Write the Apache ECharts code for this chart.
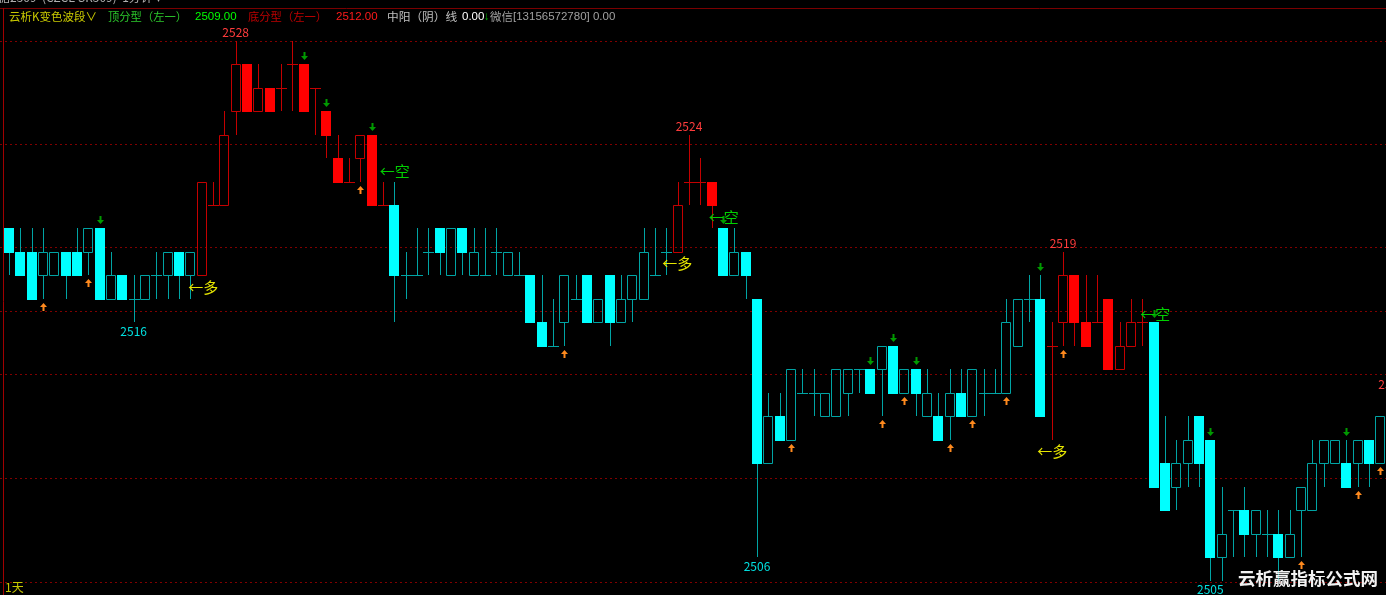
<!DOCTYPE html>
<html><head><meta charset="utf-8">
<script src="https://cdn.jsdelivr.net/npm/echarts@6/dist/echarts.min.js"></script>
<style>html,body{margin:0;padding:0;background:#000;}#c{width:1386px;height:595px;}</style>
</head><body><div id="c"></div>
<script>
// ---- data (1-minute candles, index 0..122) ----
const opens  = [2520,2519,2519,2518,2518,2519,2519,2519,2520,2517,2518,2517,2517,2518,2518,2519,2518,2518,2521,2521,
                2525,2527,2525,2526,2526,2527,2527,2526,2525,2523,2522,2523,2524,2521,2521,2518,2518,2519,2520,2518,
                2520,2518,2518,2519,2518,2518,2518,2516,2515,2516,2517,2518,2516,2518,2516,2517,2517,2518,2519,2519,
                2522,2522,2522,2520,2518,2519,2517,2510,2512,2511,2513,2513,2512,2512,2513,2514,2514,2514,2515,2513,
                2514,2512,2512,2512,2513,2512,2513,2513,2513,2515,2517,2517,2515,2516,2518,2516,2516,2517,2514,2515,
                2516,2516,2510,2509,2510,2512,2511,2506,2508,2508,2507,2507,2507,2506,2508,2508,2510,2510,2510,2510,
                2511,2510,2512];
const closes = [2519,2518,2517,2519,2519,2518,2518,2520,2517,2518,2517,2517,2518,2518,2519,2518,2519,2522,2521,2524,
                2527,2525,2526,2525,2526,2527,2525,2526,2524,2522,2522,2524,2521,2521,2518,2518,2518,2519,2519,2520,
                2519,2519,2518,2519,2519,2518,2516,2515,2515,2518,2517,2516,2517,2516,2517,2518,2519,2518,2519,2521,
                2522,2522,2521,2518,2519,2518,2510,2512,2511,2514,2513,2513,2513,2514,2514,2514,2513,2515,2513,2514,
                2513,2513,2511,2513,2512,2514,2513,2513,2516,2517,2517,2512,2515,2518,2516,2515,2516,2514,2515,2516,
                2516,2509,2508,2510,2511,2510,2506,2507,2508,2507,2508,2507,2506,2507,2509,2510,2511,2511,2509,2511,
                2510,2512,2513];
const lows   = [2518,2518,2517,2517,2518,2517,2518,2518,2517,2517,2517,2516,2517,2517,2517,2517,2517,2518,2521,2521,
                2524,2525,2525,2525,2525,2525,2525,2524,2523,2522,2522,2522,2521,2521,2516,2517,2518,2518,2518,2518,
                2518,2518,2518,2518,2518,2518,2516,2515,2515,2515,2517,2516,2516,2515,2516,2516,2517,2518,2518,2519,
                2521,2521,2520,2518,2518,2517,2506,2510,2511,2511,2513,2512,2512,2512,2512,2513,2513,2512,2513,2513,
                2512,2512,2511,2511,2512,2512,2512,2513,2513,2515,2516,2512,2511,2515,2515,2515,2516,2514,2514,2515,
                2515,2509,2508,2508,2509,2509,2505,2505,2506,2506,2506,2506,2505,2506,2506,2508,2509,2510,2509,2509,
                2509,2510,2512];
const highs  = [2520,2520,2520,2520,2519,2519,2520,2520,2520,2519,2518,2518,2518,2519,2519,2519,2519,2522,2522,2525,
                2528,2527,2527,2526,2527,2528,2527,2526,2525,2524,2523,2524,2524,2522,2522,2519,2520,2520,2520,2520,
                2520,2520,2520,2520,2519,2519,2518,2518,2517,2518,2518,2518,2517,2518,2518,2518,2520,2520,2520,2522,
                2524,2523,2522,2520,2520,2519,2517,2513,2513,2514,2514,2514,2513,2514,2514,2514,2514,2515,2515,2514,
                2514,2514,2513,2514,2514,2514,2514,2514,2517,2517,2518,2518,2516,2519,2518,2518,2518,2517,2516,2517,
                2517,2516,2512,2511,2512,2512,2511,2509,2508,2509,2508,2508,2508,2508,2509,2511,2511,2511,2511,2511,
                2511,2512,2513];
const redWaves = [[17,33],[59,62],[92,100]];           // candles drawn in the red (up-wave) colour
const gridPrices = [2528, 2523.6, 2519.2, 2516.48, 2513.78, 2509.37, 2504.95];
const topArrows = [8,26,28,32,63,76,78,80,91,101,106,118];
const bottomArrows = [3,7,31,49,69,77,79,83,85,88,93,114,119,121];
const highLabels = [[20,2528],[60,2524],[93,2519],[122,2513]];
const lowLabels = [[11,2516],[66,2506],[106,2505]];
const longSignals = [[16,2517.5],[58,2518.53],[91,2510.49]];
const longDx = [-2,-4,-3];
const shortSignals = [[32,2522.42],[62,2520.49],[100,2516.34]];
const shortDx = [8,-3,-2];

const candleData = opens.map((o, i) => [i, o, closes[i], lows[i], highs[i]]);

function isRed(i){ return redWaves.some(r => i >= r[0] && i <= r[1]); }

function renderCandle(params, api){
  const i = api.value(0), o = api.value(1), c = api.value(2), l = api.value(3), h = api.value(4);
  const red = isRed(i);
  const fill = red ? '#ff0000' : '#00ffff';
  const line = red ? '#c40000' : '#00a4a4';
  const p0 = api.coord([i, o]);
  const cx = Math.round(p0[0]);
  const yo = p0[1], yc = api.coord([i, c])[1], yh = api.coord([i, h])[1], yl = api.coord([i, l])[1];
  const top = Math.round(Math.min(yo, yc)), bot = Math.round(Math.max(yo, yc));
  const yH = Math.round(yh), yL = Math.round(yl);
  const wx = cx + 0.5;
  const ch = [];
  if (yH < top) ch.push({type:'line', shape:{x1:wx, y1:yH, x2:wx, y2:top}, style:{stroke:line, lineWidth:1}});
  if (yL > bot) ch.push({type:'line', shape:{x1:wx, y1:bot, x2:wx, y2:yL}, style:{stroke:line, lineWidth:1}});
  if (o === c) {
    ch.push({type:'line', shape:{x1:cx-5, y1:top+0.5, x2:cx+6, y2:top+0.5}, style:{stroke:line, lineWidth:1}});
  } else if (c > o) {
    ch.push({type:'rect', shape:{x:cx-4.5, y:top+0.5, width:9, height:bot-top}, style:{fill:'none', stroke:line, lineWidth:1}});
  } else {
    ch.push({type:'rect', shape:{x:cx-5, y:top, width:10, height:bot-top+1}, style:{fill:fill}});
  }
  return {type:'group', children: ch};
}

function renderGrid(params, api){
  const y = Math.round(api.coord([0, api.value(1)])[1]) + 0.5;
  return {type:'line', shape:{x1:0, y1:y, x2:1386, y2:y},
          style:{stroke:'#800000', lineWidth:1, lineDash:[2,3]}};
}

function arrowRenderer(down, color){
  return function(params, api){
    const p = api.coord([api.value(0), api.value(1)]);
    const cx = Math.round(p[0]) + 0.5;
    const y = Math.round(p[1]);
    let pts;
    if (down) {
      const t = y - 12;
      pts = [[cx-1,t],[cx+1,t],[cx+1,t+4],[cx+3.5,t+4],[cx,t+8],[cx-3.5,t+4],[cx-1,t+4]];
    } else {
      const b = y + 12;
      pts = [[cx-1,b],[cx+1,b],[cx+1,b-4],[cx+3.5,b-4],[cx,b-8],[cx-3.5,b-4],[cx-1,b-4]];
    }
    return {type:'polygon', shape:{points: pts}, style:{fill: color}};
  };
}

function textRenderer(color, dy, font, align, dxArr, textFn){
  return function(params, api){
    const p = api.coord([api.value(0), api.value(1)]);
    const dx = dxArr ? dxArr[params.dataIndex] : 0;
    return {type:'text', x: p[0] + dx, y: p[1] + dy,
            style:{text: textFn(api), fill: color, font: font, align: align, verticalAlign:'middle'}};
  };
}

const FONT = '"Noto Sans CJK SC", "DejaVu Sans", sans-serif';
const NUMFONT = '"Liberation Sans", Arial, sans-serif';
const chart = echarts.init(document.getElementById('c'), null, {renderer:'canvas'});
const gridH = (2528 - 2504.5) * 23.47;
function hdr(x, text, fill, font){
  return {type:'text', x:x, y:17, z:10, style:{text:text, fill:fill, font:font, verticalAlign:'middle'}};
}
chart.setOption({
  backgroundColor: '#000000',
  animation: false,
  grid: {left: 3.33, right: 0, top: 40.7, height: gridH, containLabel: false},
  xAxis: {type:'value', min: -0.5, max: 121.5, show: false, splitLine:{show:false}},
  yAxis: {type:'value', min: 2504.5, max: 2528, show: false, splitLine:{show:false}},
  series: [
    {type:'custom', z:1, renderItem: renderGrid, encode:{x:0, y:1}, data: gridPrices.map(v => [0, v]), silent:true},
    {type:'custom', z:2, renderItem: renderCandle, encode:{x:0, y:[1,2,3,4]}, data: candleData, silent:true},
    {type:'custom', z:3, renderItem: arrowRenderer(true, '#009a00'), encode:{x:0, y:1},
      data: topArrows.map(i => [i, highs[i]]), silent:true},
    {type:'custom', z:3, renderItem: arrowRenderer(false, '#ff8a1e'), encode:{x:0, y:1},
      data: bottomArrows.map(i => [i, lows[i]]), silent:true},
    {type:'custom', z:3, renderItem: textRenderer('#ff3c3c', -8.5, '12px ' + FONT, 'center', null, api => String(api.value(1))),
      encode:{x:0, y:1}, data: highLabels, silent:true},
    {type:'custom', z:3, renderItem: textRenderer('#00e0e0', 9, '12px ' + FONT, 'center', null, api => String(api.value(1))),
      encode:{x:0, y:1}, data: lowLabels, silent:true},
    {type:'custom', z:4, renderItem: textRenderer('#e6e600', 0, '15px ' + FONT, 'left', longDx, () => '←多'),
      encode:{x:0, y:1}, data: longSignals, silent:true},
    {type:'custom', z:4, renderItem: textRenderer('#00d000', 0, '15px ' + FONT, 'left', shortDx, () => '←空'),
      encode:{x:0, y:1}, data: shortSignals, silent:true}
  ],
  graphic: [
    {type:'line', shape:{x1:0, y1:8.5, x2:1386, y2:8.5}, style:{stroke:'#7a0000', lineWidth:1}, z:10},
    {type:'line', shape:{x1:3.5, y1:8, x2:3.5, y2:595}, style:{stroke:'#a00000', lineWidth:1}, z:10},
    {type:'text', x:-14, y:-3, z:10, style:{text:'白糖2509  (CZCE SR509)  1分钟 ▾', fill:'#b0b0b0', font:'12px ' + FONT, verticalAlign:'middle'}},
    hdr(9, '云析K变色波段∨', '#c8c800', '11.5px ' + FONT),
    hdr(108, '顶分型（左一）', '#2cc82c', '11.3px ' + FONT),
    hdr(195, '2509.00', '#00ff00', '11.5px ' + NUMFONT),
    hdr(248, '底分型（左一）', '#c00000', '11.3px ' + FONT),
    hdr(336, '2512.00', '#ff1a1a', '11.5px ' + NUMFONT),
    hdr(387, '中阳（阴）线', '#c0c0c0', '11.7px ' + FONT),
    hdr(462, '0.00', '#ffffff', '11.5px ' + NUMFONT),
    hdr(484, '↓', '#00c000', '11.5px ' + NUMFONT),
    hdr(490, '微信', '#a0a0a0', '11.5px ' + FONT),
    hdr(513, '[13156572780] 0.00', '#a0a0a0', '11.5px ' + NUMFONT),
    {type:'text', x:5, y:587, z:10, style:{text:'1天', fill:'#c8c800', font:'12px ' + FONT, verticalAlign:'middle'}},
    {type:'text', x:1238, y:578, z:10, style:{text:'云析赢指标公式网', fill:'#f2f2f2', font:'bold 17.5px ' + FONT, verticalAlign:'middle'}}
  ]
});
</script>
</body></html>
